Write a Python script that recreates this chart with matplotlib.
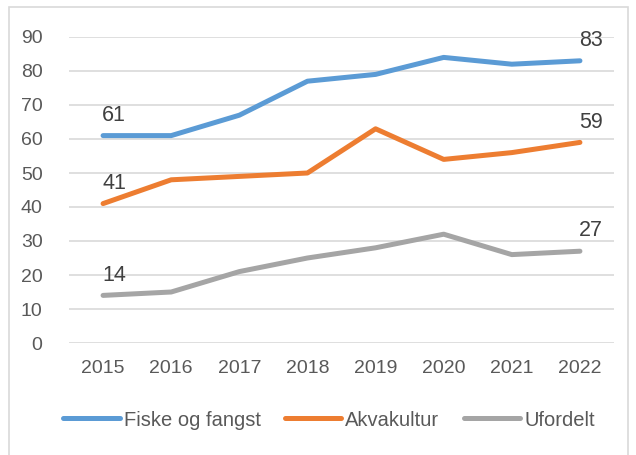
import matplotlib
matplotlib.use("Agg")
import matplotlib.pyplot as plt
from matplotlib.patches import Rectangle

years = ["2015", "2016", "2017", "2018", "2019", "2020", "2021", "2022"]
fiske = [61, 61, 67, 77, 79, 84, 82, 83]
akva = [41, 48, 49, 50, 63, 54, 56, 59]
ufordelt = [14, 15, 21, 25, 28, 32, 26, 27]

series = [
    ("Fiske og fangst", fiske, "#5B9BD5"),
    ("Akvakultur", akva, "#ED7D31"),
    ("Ufordelt", ufordelt, "#A5A5A5"),
]

plt.rcParams['font.family'] = ['Liberation Sans', 'DejaVu Sans']

W, H = 636, 455
fig = plt.figure(figsize=(W / 100, H / 100), dpi=100)
ax = fig.add_axes([69 / W, 1 - 343 / H, (614 - 69) / W, (343 - 37) / H])

# chart border
fig.patches.append(Rectangle((9 / W, -0.01), (628 - 9) / W, 1 - 7 / H + 0.01,
                             transform=fig.transFigure, fill=False,
                             edgecolor="#D9D9D9", linewidth=1.2))

x = list(range(len(years)))
for name, vals, col in series:
    ax.plot(x, vals, color=col, linewidth=3.6, solid_capstyle="round",
            solid_joinstyle="round", label=name)
    # labels at first and last point
    for i in (0, len(vals) - 1):
        ax.annotate(str(vals[i]), (x[i], vals[i]), xytext=(8, 7),
                    textcoords="offset points", ha="center", va="bottom",
                    fontsize=15.5, color="#404040")

ax.set_xlim(-0.5, len(years) - 0.5)
ax.set_ylim(0, 90)
ax.set_yticks(range(0, 91, 10))
ax.set_xticks(x)
ax.set_xticklabels(years)
ax.grid(axis="y", color="#D9D9D9", linewidth=1.2)
ax.set_axisbelow(True)
for s in ax.spines.values():
    s.set_visible(False)
ax.tick_params(axis="both", length=0, labelsize=14, colors="#595959")
ax.tick_params(axis="y", pad=19)
ax.tick_params(axis="x", pad=12)

leg = fig.legend(loc="center", bbox_to_anchor=(329 / W, 1 - 420 / H), ncol=3,
                 frameon=False, fontsize=14.5, handlelength=2.8,
                 handletextpad=0.2, columnspacing=1.2)
for t in leg.get_texts():
    t.set_color("#595959")

fig.savefig("out.png", dpi=100)
